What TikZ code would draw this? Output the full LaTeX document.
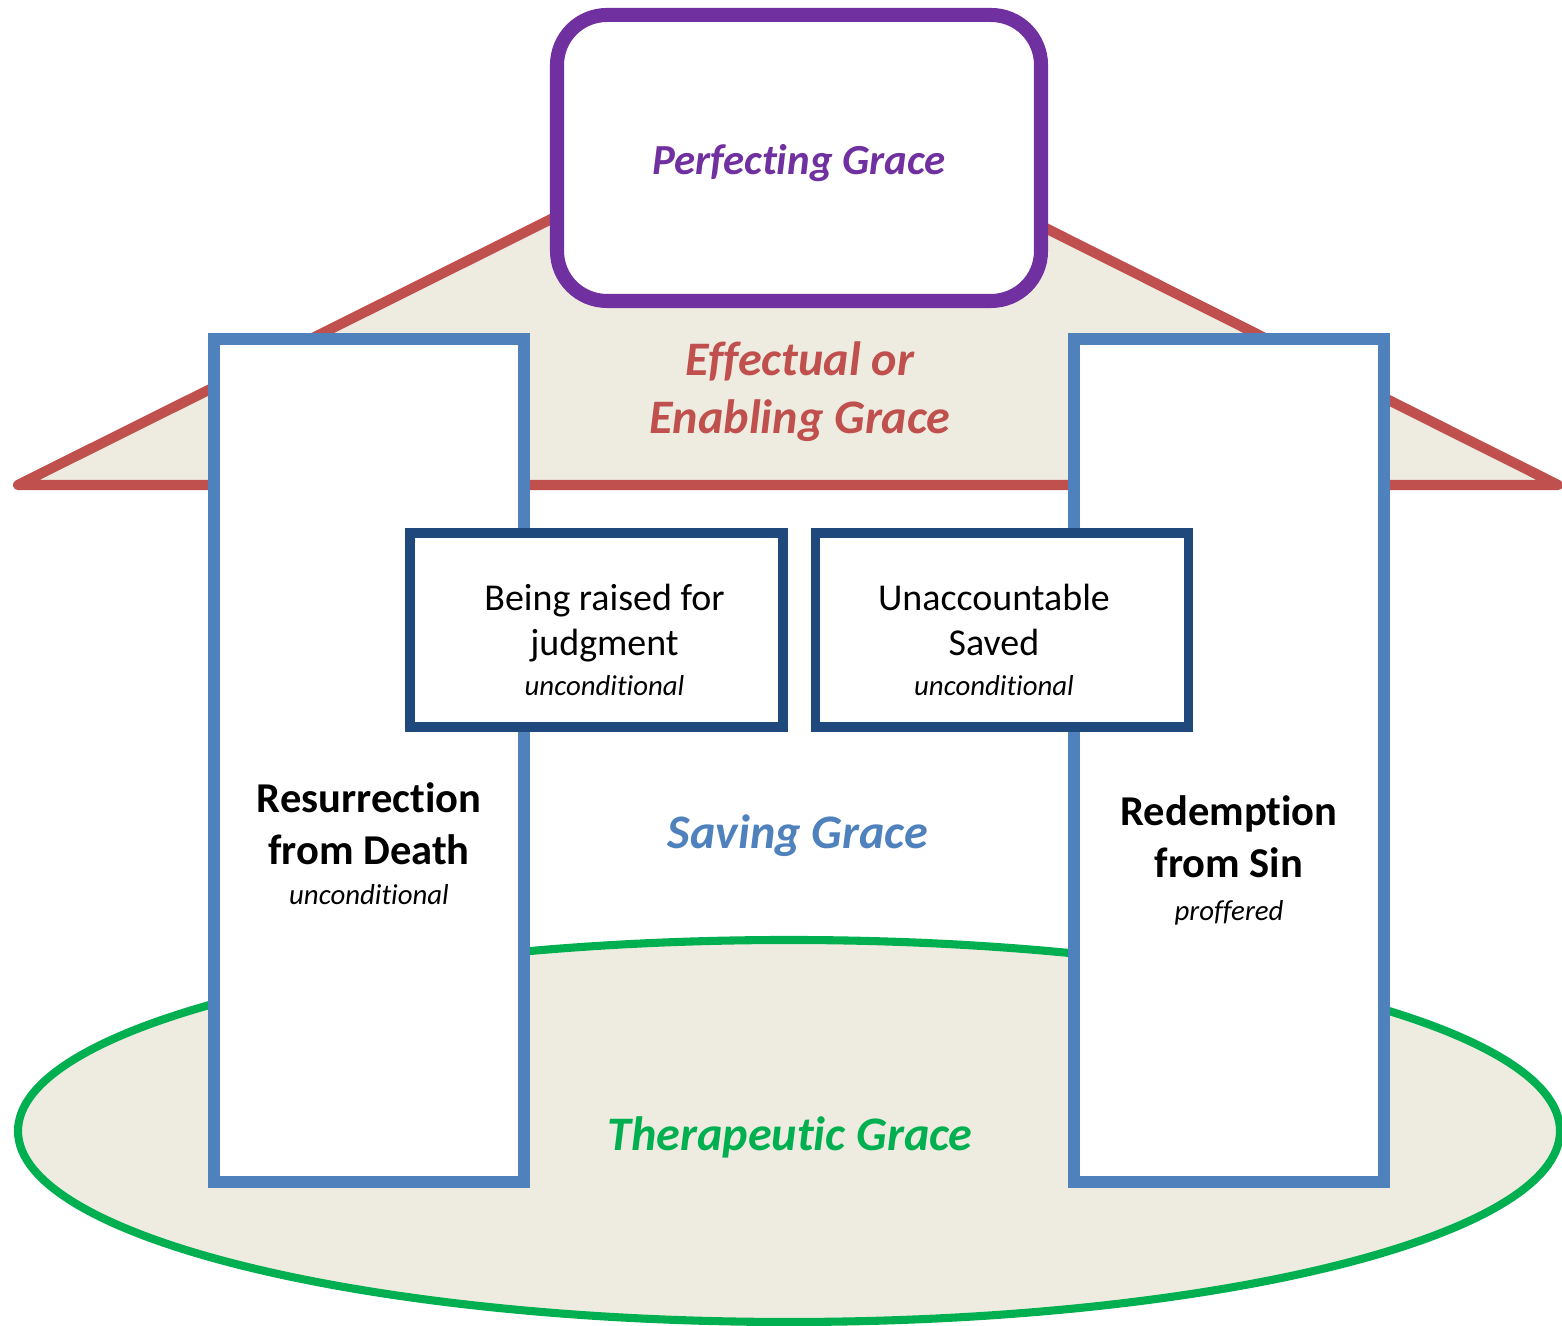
\documentclass[tikz,border=0pt]{standalone}
\usepackage{fontspec}
\setmainfont{Carlito}[Ligatures=NoCommon]
\usetikzlibrary{positioning}

\definecolor{roofred}{HTML}{C0504D}
\definecolor{groundtan}{HTML}{EEECE1}
\definecolor{pillarblue}{HTML}{4F81BD}
\definecolor{boxblue}{HTML}{1F497D}
\definecolor{crownpurple}{HTML}{7030A0}
\definecolor{floorgreen}{HTML}{00B050}

\newcommand{\gracefont}{\fontsize{13.7}{16.5}\selectfont\bfseries\itshape}
\newcommand{\pillarfont}{\fontsize{12.1}{14.8}\selectfont\bfseries}
\newcommand{\notefont}{\fontsize{8.2}{10}\selectfont\itshape}

\begin{document}
\begin{tikzpicture}[
	pillar/.style={draw=pillarblue, line width=3.4pt, fill=white,
		minimum width=3.1cm, minimum height=8.43cm},
	judgebox/.style={draw=boxblue, line width=2.6pt, fill=white,
		minimum width=3.73cm, minimum height=1.94cm},
	crown/.style={draw=crownpurple, line width=4pt, fill=white,
		rounded corners=0.5cm, minimum width=4.84cm, minimum height=2.86cm},
	pillartext/.style={align=center, font=\pillarfont},
	boxtext/.style={align=center, font=\fontsize{10.8}{12.8}\selectfont}
]
	\useasboundingbox (0,0) rectangle (15.62,13.26);
%	\draw[help lines] (0,0) grid (15,13);
	\path (7.89,1.95) coordinate (floor);
	\path (0.18,8.41) coordinate (eave_left);
	\path (15.58,8.41) coordinate (eave_right);
	\path (7.90,12.26) coordinate (ridge);

	% ground and roof
	\draw[floorgreen, line width=2.3pt, fill=groundtan] (floor) ellipse [x radius=7.71, y radius=1.91];
	\draw[roofred, line width=2.9pt, line join=round, fill=groundtan] (eave_left) -- (ridge) -- (eave_right) -- cycle;

	% the two pillars
	\node[pillar] (death) at (3.69,5.655) {};
	\node[pillar] (sin) at (12.29,5.655) {};

	% boxes hung between the pillars
	\node[judgebox] (judgment) at (5.965,6.96) {};
	\node[judgebox] (saved) at (10.02,6.96) {};
	\node[boxtext] (judgmenttext) at ([xshift=0.08cm,yshift=-0.1cm]judgment.center)
		{Being raised for\\judgment\\[-1.5pt]{\notefont unconditional}};
	\node[boxtext] (savedtext) at ([xshift=-0.08cm,yshift=-0.1cm]saved.center)
		{Unaccountable\\Saved\\[-1.5pt]{\notefont unconditional}};

	% top of the house
	\node[crown] (perfecting) at (7.99,11.68) {};
	\node[text=crownpurple, font=\fontsize{12.2}{14}\selectfont\bfseries\itshape] (perfectingtext)
		at ([yshift=-0.05cm]perfecting.center) {Perfecting Grace};

	\node[pillartext] (resurrection) at ([yshift=-0.83cm]death.center)
		{Resurrection\\from Death\\[-3.5pt]{\notefont\mdseries unconditional}};
	\node[pillartext] (redemption) at ([yshift=-1.0cm]sin.center)
		{Redemption\\from Sin\\[-2.5pt]{\notefont\mdseries proffered}};

	\node[align=center, text=roofred, font=\gracefont] (effectual) at (8.00,9.34) {Effectual or\\Enabling Grace};
	\node[text=pillarblue, font=\gracefont] (saving) at (7.98,4.90) {Saving Grace};
	\node[text=floorgreen, font=\gracefont] (therapeutic) at (7.90,1.89) {Therapeutic Grace};
\end{tikzpicture}
\end{document}
